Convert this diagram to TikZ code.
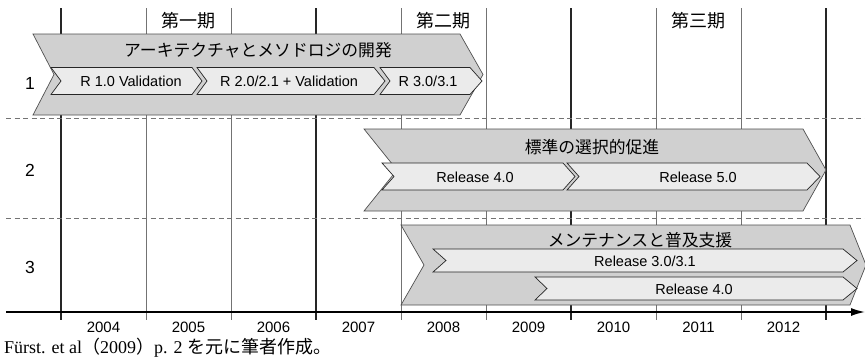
\documentclass[tikz,border=0pt]{standalone}
\usepackage{fontspec}
\setmainfont{Liberation Sans}
\newfontfamily\jpfont{Noto Sans CJK JP}
\newfontfamily\capserif{Liberation Serif}
\usetikzlibrary{arrows.meta}
\definecolor{chevgray}{HTML}{D0D0D0}
\definecolor{innergray}{HTML}{EBEBEB}
\definecolor{chevedge}{HTML}{505050}
% L R T B notch tip style
\newcommand\mychevron[7]{%
  \draw[#7] (#1,#3) -- (#2,#3) -- ({#2+#6},{(#3+#4)/2}) -- (#2,#4) -- (#1,#4) -- ({#1+#5},{(#3+#4)/2}) -- cycle;}
\begin{document}
\begin{tikzpicture}[x=1pt,y=-1pt,
  bigchev/.style={fill=chevgray, draw=chevedge, line width=0.7pt},
  smallchev/.style={fill=innergray, draw=black!85, line width=0.7pt},
  thickgrid/.style={line width=1.4pt, draw=black!85},
  thingrid/.style={line width=0.8pt, draw=black!55},
  sep/.style={dash pattern=on 5pt off 3.5pt, draw=black!55, line width=1pt},
  ttl/.style={font=\jpfont\fontsize{16.8}{18}\selectfont, inner sep=0pt},
  per/.style={font=\jpfont\fontsize{18}{20}\selectfont, inner sep=0pt},
  lab/.style={font=\fontsize{14.5}{16}\selectfont, inner sep=0pt},
  yrs/.style={font=\fontsize{15}{17}\selectfont, inner sep=0pt},
  rownum/.style={font=\fontsize{17.5}{19}\selectfont, inner sep=0pt}]
\useasboundingbox (0,0) rectangle (865,364);
% grid
\foreach \x in {61,316,571,826} \draw[thickgrid] (\x,8) -- (\x,320);
\foreach \x in {146,231,401,486,656,741} \draw[thingrid] (\x,8) -- (\x,320);
% separators
\draw[sep] (6,118) -- (865,118);
\draw[sep] (6,218) -- (865,218);
% axis
\coordinate (axs) at (6,312);
\coordinate (axe) at (865,312);
\draw[line width=1.5pt, -{Latex[length=14pt,width=8pt]}] (axs) -- (axe);
% row 1
\mychevron{33}{460}{34}{115}{21}{23}{bigchev}
\mychevron{51}{192}{67.5}{94.5}{10}{10}{smallchev}
\mychevron{197}{374}{67.5}{94.5}{10}{11}{smallchev}
\mychevron{380}{470}{67.5}{94.5}{10}{12}{smallchev}
% row 2
\mychevron{364}{803}{129}{211}{33}{23}{bigchev}
\mychevron{382}{563}{163}{190}{12}{12}{smallchev}
\mychevron{567}{807}{163}{190}{12}{13}{smallchev}
% row 3
\mychevron{401}{850}{225}{305}{23}{16}{bigchev}
\mychevron{433}{843}{249}{272}{13}{14}{smallchev}
\mychevron{535}{843}{277}{300}{12}{14}{smallchev}
% period labels
\node[per] (p1) at (188,21) {第一期};
\node[per] (p2) at (443,21) {第二期};
\node[per] (p3) at (698,21) {第三期};
% row numbers
\node[rownum] (n1) at (30,83) {1};
\node[rownum] (n2) at (30,170) {2};
\node[rownum] (n3) at (30,267) {3};
% titles
\node[ttl] (t1) at (258,50) {アーキテクチャとメソドロジの開発};
\node[ttl] (t2) at (592,147) {標準の選択的促進};
\node[ttl] (t3) at (640,240) {メンテナンスと普及支援};
% inner labels
\node[lab] (r11) at (131,81) {R 1.0 Validation};
\node[lab] (r12) at (289,81) {R 2.0/2.1 + Validation};
\node[lab] (r13) at (428,81) {R 3.0/3.1};
\node[lab] (r21) at (475,177) {Release 4.0};
\node[lab] (r22) at (698,177) {Release 5.0};
\node[lab] (r31) at (645,261) {Release 3.0/3.1};
\node[lab] (r32) at (694,289) {Release 4.0};
% years
\foreach \yr [count=\i] in {2004,2005,2006,2007,2008,2009,2010,2011,2012}
  \node[yrs] (yr\i) at ({18.5+85*\i},327) {\yr};
% caption
\node[anchor=west, inner sep=0pt, font=\fontsize{18}{20}\selectfont] (cap) at (4,348)
  {\capserif Fürst. et al\jpfont（\capserif 2009\jpfont）\capserif p. 2 \jpfont を元に筆者作成。};
\end{tikzpicture}
\end{document}
